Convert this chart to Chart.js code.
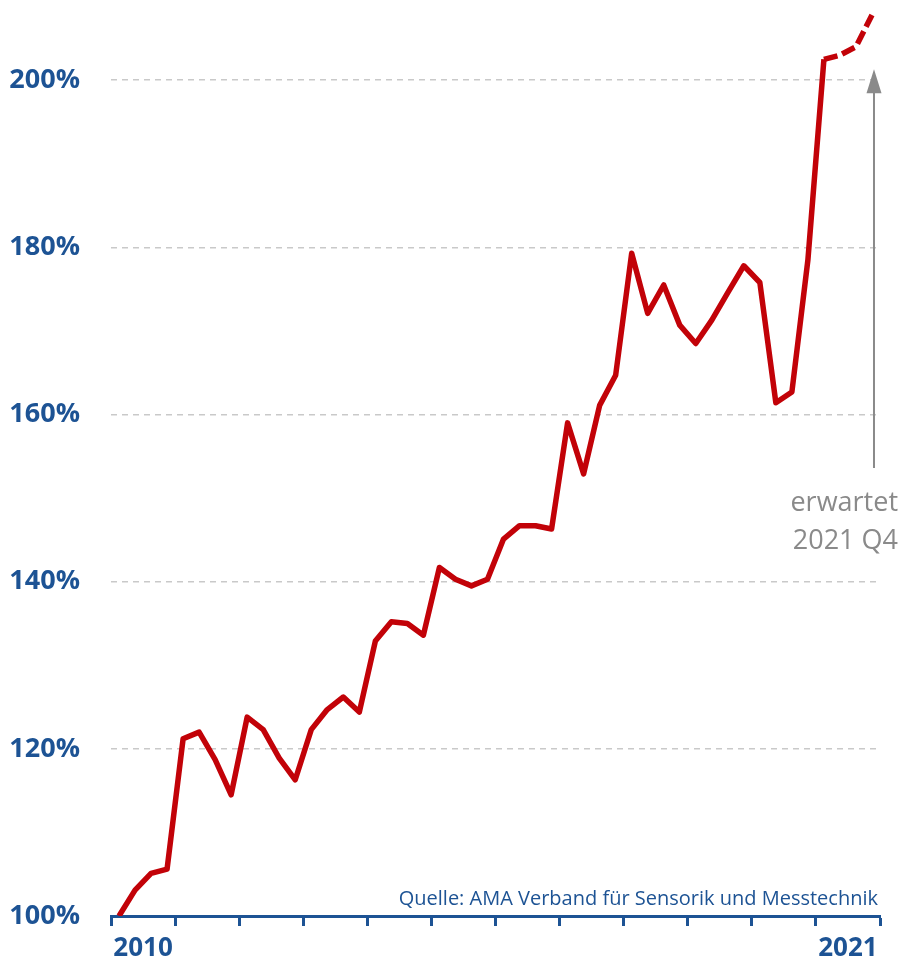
<!DOCTYPE html>
<html>
<head>
<meta charset="utf-8">
<script src="https://cdn.jsdelivr.net/npm/chart.js@4.4.0/dist/chart.umd.min.js"></script>
<style>
  body { margin: 0; background: #fff; }
  #chart { display: block; }
</style>
</head>
<body>
<canvas id="chart" width="905" height="960"></canvas>
<script>
// index relative to 2010 (quarterly), 2010 Q1 = 100 %
const years = [2010, 2011, 2012, 2013, 2014, 2015, 2016, 2017, 2018, 2019, 2020, 2021];
const quarters = ['Q1', 'Q2', 'Q3', 'Q4'];
const values = [
    100.0, 103.1, 105.1, 105.6,
    121.2, 122.0, 118.7, 114.5,
    123.8, 122.3, 118.9, 116.3,
    122.3, 124.7, 126.2, 124.4,
    132.9, 135.2, 135.0, 133.6,
    141.7, 140.3, 139.5, 140.3,
    145.1, 146.7, 146.7, 146.3,
    159.0, 152.9, 161.1, 164.7,
    179.3, 172.1, 175.5, 170.7,
    168.5, 171.3, 174.6, 177.8,
    175.8, 161.4, 162.7, 178.5,
    202.5, 203.0, 204.0, 207.8
];
const firstForecast = 44; // 2021 values drawn dashed
const yTicks = [100, 120, 140, 160, 180, 200];
const sourceText = 'Quelle: AMA Verband für Sensorik und Messtechnik';
const noteLines = ['erwartet', '2021 Q4'];

const blue = '#1d5394';
const red = '#c20208';
const grey = '#8a8a8a';

const points = values.map((v, i) => ({ x: i + 0.5, y: v }));

const notes = {
    id: 'notes',
    afterDraw(chart) {
        const ctx = chart.ctx;
        const area = chart.chartArea;
        const xs = chart.scales.x;
        const ys = chart.scales.y;
        ctx.save();
        // source
        ctx.font = '20px "Open Sans"';
        ctx.fillStyle = blue;
        ctx.textAlign = 'right';
        ctx.textBaseline = 'alphabetic';
        ctx.fillText(sourceText, area.right - 2, area.bottom - 11);

        // arrow to the expected value
        const ax = xs.getPixelForValue(values.length - 0.5) + 2;
        const yTop = ys.getPixelForValue(201.3);
        const yBot = ys.getPixelForValue(153.6);
        ctx.strokeStyle = grey;
        ctx.fillStyle = grey;
        ctx.lineWidth = 2;
        ctx.beginPath();
        ctx.moveTo(ax, yBot);
        ctx.lineTo(ax, yTop + 20);
        ctx.stroke();
        ctx.beginPath();
        ctx.moveTo(ax, yTop);
        ctx.lineTo(ax - 7.5, yTop + 24);
        ctx.lineTo(ax + 7.5, yTop + 24);
        ctx.closePath();
        ctx.fill();

        ctx.font = '27px "Open Sans"';
        ctx.textAlign = 'right';
        ctx.textBaseline = 'middle';
        ctx.fillText(noteLines[0], 898, yBot + 35);
        ctx.fillText(noteLines[1], 898, yBot + 73);
        ctx.restore();
    }
};

new Chart(document.getElementById('chart'), {
    type: 'line',
    data: {
        datasets: [{
            label: 'Umsatz',
            data: points,
            borderColor: red,
            borderWidth: 5.5,
            borderJoinStyle: 'round',
            borderCapStyle: 'butt',
            pointRadius: 0,
            tension: 0,
            segment: {
                borderDash: ctx => ctx.p0DataIndex >= firstForecast ? [14, 5] : undefined
            }
        }]
    },
    options: {
        responsive: false,
        devicePixelRatio: 1,
        animation: false,
        layout: { padding: { top: 0, right: 25, left: 0, bottom: 0 } },
        plugins: {
            legend: { display: false },
            tooltip: { enabled: false }
        },
        scales: {
            x: {
                type: 'linear',
                min: 0,
                max: years.length * 4,
                afterBuildTicks: axis => {
                    const t = [];
                    for (let v = 0; v <= years.length * 4; v += 2) t.push({ value: v });
                    axis.ticks = t;
                },
                afterFit: axis => {
                    axis.height = 44;
                    axis.paddingLeft = 0;
                    axis.paddingRight = 0;
                },
                border: { display: true, color: blue, width: 3 },
                grid: {
                    drawOnChartArea: false,
                    drawTicks: true,
                    tickLength: 10,
                    tickWidth: 3,
                    tickColor: c => (c.tick && c.tick.value % 4 === 0) ? blue : 'rgba(0,0,0,0)'
                },
                ticks: {
                    autoSkip: false,
                    maxRotation: 0,
                    padding: 7,
                    color: blue,
                    font: { family: 'Open Sans', size: 26, weight: 'bold' },
                    callback: v => {
                        if (v % 4 !== 2) return '';
                        const y = years[(v - 2) / 4];
                        return (y === years[0] || y === years[years.length - 1]) ? String(y) : '';
                    }
                }
            },
            y: {
                min: 100,
                max: 209.6,
                afterBuildTicks: axis => { axis.ticks = yTicks.map(v => ({ value: v })); },
                afterFit: axis => {
                    axis.width = 111;
                    axis.paddingTop = 0;
                    axis.paddingBottom = 0;
                },
                border: { display: false, dash: [6, 5] },
                grid: {
                    drawTicks: false,
                    lineWidth: 1.5,
                    color: c => (c.tick && c.tick.value === 100) ? 'rgba(0,0,0,0)' : '#c9c9c9'
                },
                ticks: {
                    padding: 31,
                    color: blue,
                    font: { family: 'Open Sans', size: 27, weight: 'bold' },
                    callback: v => v + '%'
                }
            }
        }
    },
    plugins: [notes]
});
</script>
</body>
</html>
